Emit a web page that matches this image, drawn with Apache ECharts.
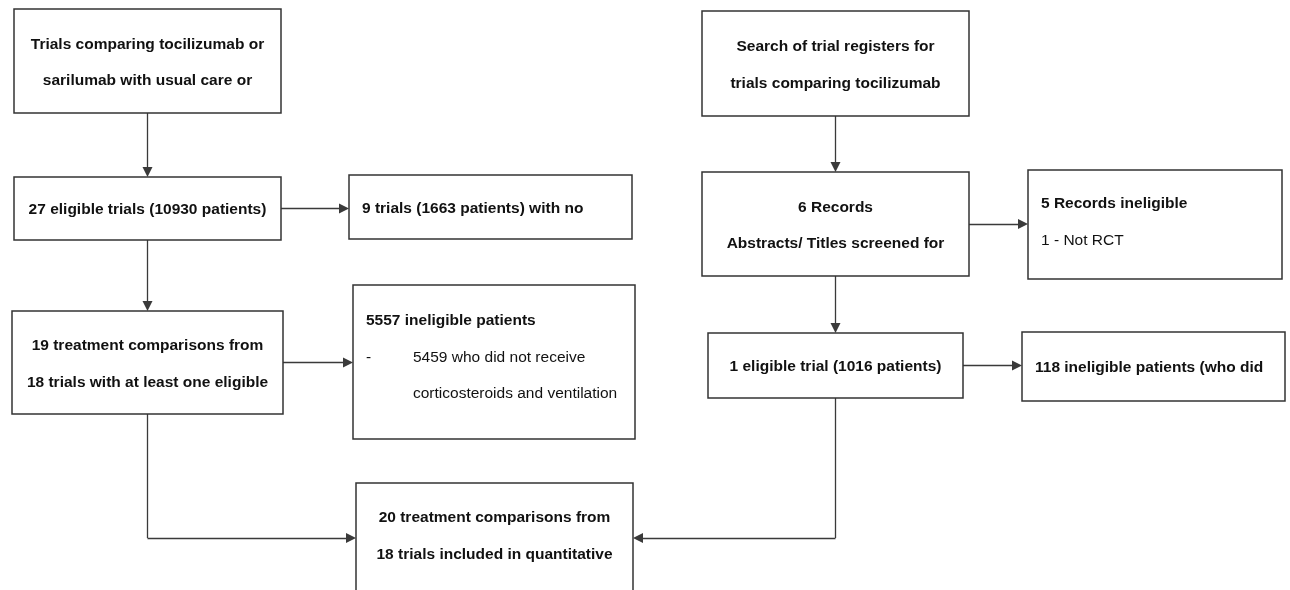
<!DOCTYPE html>
<html>
<head>
<meta charset="utf-8">
<title>Study selection flow</title>
<script src="https://cdn.jsdelivr.net/npm/echarts/dist/echarts.min.js"></script>
<style>
html, body { margin: 0; padding: 0; background: #fff; }
#chart { width: 1290px; height: 590px; }
</style>
</head>
<body>
<div id="chart"></div>
<script>
// boxes of the flow diagram, in reading order
const boxIds = [
  'trialsSearch', 'eligible27', 'noData9', 'comparisons19', 'ineligible5557', 'included20',
  'registerSearch', 'records6', 'ineligible5', 'eligible1', 'ineligible118'
]
const boxTexts = [
  ['Trials comparing tocilizumab or', 'sarilumab with usual care or'],
  ['27 eligible trials (10930 patients)'],
  ['9 trials (1663 patients) with no'],
  ['19 treatment comparisons from', '18 trials with at least one eligible'],
  ['5557 ineligible patients', '-\t5459 who did not receive', '\tcorticosteroids and ventilation'],
  ['20 treatment comparisons from', '18 trials included in quantitative'],
  ['Search of trial registers for', 'trials comparing tocilizumab'],
  ['6 Records', 'Abstracts/ Titles screened for'],
  ['5 Records ineligible', '1 - Not RCT'],
  ['1 eligible trial (1016 patients)'],
  ['118 ineligible patients (who did']
]
// arrows: from -> to
const linkFrom = ['trialsSearch', 'eligible27', 'eligible27', 'comparisons19', 'comparisons19', 'registerSearch', 'records6', 'records6', 'eligible1', 'eligible1']
const linkTo = ['eligible27', 'noData9', 'comparisons19', 'ineligible5557', 'included20', 'records6', 'ineligible5', 'eligible1', 'ineligible118', 'included20']

// layout (axis units == pixels)
const layout = {
  trialsSearch: { x: 14, y: 9, w: 267, h: 104, align: 'center' },
  eligible27: { x: 14, y: 177, w: 267, h: 63, align: 'center' },
  noData9: { x: 349, y: 175, w: 283, h: 64, align: 'left' },
  comparisons19: { x: 12, y: 311, w: 271, h: 103, align: 'center' },
  ineligible5557: { x: 353, y: 285, w: 282, h: 154, align: 'left', list: true, pad: 36 },
  included20: { x: 356, y: 483, w: 277, h: 140, align: 'center', pad: 35, elbowY: 55 },
  registerSearch: { x: 702, y: 11, w: 267, h: 105, align: 'center' },
  records6: { x: 702, y: 172, w: 267, h: 104, align: 'center' },
  ineligible5: { x: 1028, y: 170, w: 254, h: 109, align: 'left', list: true, pad: 34 },
  eligible1: { x: 708, y: 333, w: 255, h: 65, align: 'center' },
  ineligible118: { x: 1022, y: 332, w: 263, h: 69, align: 'left' }
}

const LINE_H = 36.5
const FONT = '"Liberation Sans", Arial, Helvetica, sans-serif'
const TEXT = '#111'
const BORDER = '#333'
const LINK = '#3a3a3a'
const ARROW = 10

const chart = echarts.init(document.getElementById('chart'))

const boxData = boxIds.map((id, i) => {
  const b = layout[id]
  return [b.x, b.y, b.w, b.h, i]
})

// route every arrow from the box layout
const plainSegs = []
const arrowSegs = []
for (let k = 0; k < linkFrom.length; k++) {
  const s = layout[linkFrom[k]]
  const t = layout[linkTo[k]]
  const sx = s.x + s.w / 2
  const sy = s.y + s.h / 2
  if (t.y > s.y + s.h && t.x < sx && sx < t.x + t.w) {
    // straight down
    arrowSegs.push({ coords: [[sx, s.y + s.h], [sx, t.y - ARROW / 2]] })
  } else if (t.x > s.x + s.w && t.y < sy && sy < t.y + t.h) {
    // straight right
    arrowSegs.push({ coords: [[s.x + s.w, sy], [t.x - ARROW / 2, sy]] })
  } else {
    // elbow: down, then across to the side of the target
    const ey = t.y + (t.elbowY || t.h / 2)
    const fromLeft = sx < t.x
    const ex = fromLeft ? t.x - ARROW / 2 : t.x + t.w + ARROW / 2
    plainSegs.push({ coords: [[sx, s.y + s.h], [sx, ey]] })
    arrowSegs.push({ coords: [[sx, ey], [ex, ey]] })
  }
}

const renderBox = (params, api) => {
  const i = api.value(4)
  const b = layout[boxIds[i]]
  const p0 = api.coord([api.value(0), api.value(1)])
  const p1 = api.coord([api.value(0) + api.value(2), api.value(1) + api.value(3)])
  const children = [{
    type: 'rect',
    shape: { x: p0[0], y: p0[1], width: p1[0] - p0[0], height: p1[1] - p0[1] },
    style: { fill: '#fff', stroke: BORDER, lineWidth: 1.5 }
  }]
  const lines = boxTexts[i]
  const n = lines.length
  lines.forEach((line, j) => {
    const ty = b.pad ? b.y + b.pad + j * LINE_H : b.y + b.h / 2 + 1.5 + (j - (n - 1) / 2) * LINE_H
    const weight = b.list && j > 0 ? 'normal' : 'bold'
    const parts = line.split('\t')
    parts.forEach((part, q) => {
      if (!part) return
      let tx, align
      if (b.align === 'center') {
        tx = b.x + b.w / 2
        align = 'center'
      } else {
        tx = b.x + (q === 0 ? 13 : 60)
        align = 'left'
      }
      const pt = api.coord([tx, ty])
      children.push({
        type: 'text',
        style: {
          text: part,
          x: pt[0],
          y: pt[1],
          align,
          verticalAlign: 'middle',
          fill: TEXT,
          fontSize: 15.5,
          fontWeight: weight,
          fontFamily: FONT
        }
      })
    })
  })
  return { type: 'group', children }
}

const option = {
  backgroundColor: '#fff',
  animation: false,
  grid: { left: 0, right: 0, top: 0, bottom: 0 },
  xAxis: { type: 'value', min: 0, max: 1290, show: false },
  yAxis: { type: 'value', min: 0, max: 590, inverse: true, show: false },
  series: [
    {
      type: 'lines',
      coordinateSystem: 'cartesian2d',
      symbol: 'none',
      lineStyle: { color: LINK, width: 1.3, opacity: 1, curveness: 0 },
      data: plainSegs,
      silent: true,
      z: 1
    },
    {
      type: 'lines',
      coordinateSystem: 'cartesian2d',
      symbol: ['none', 'triangle'],
      symbolSize: ARROW,
      lineStyle: { color: LINK, width: 1.3, opacity: 1, curveness: 0 },
      data: arrowSegs,
      silent: true,
      z: 1
    },
    {
      type: 'custom',
      renderItem: renderBox,
      data: boxData,
      silent: true,
      z: 2
    }
  ]
}
chart.setOption(option)
</script>
</body>
</html>
